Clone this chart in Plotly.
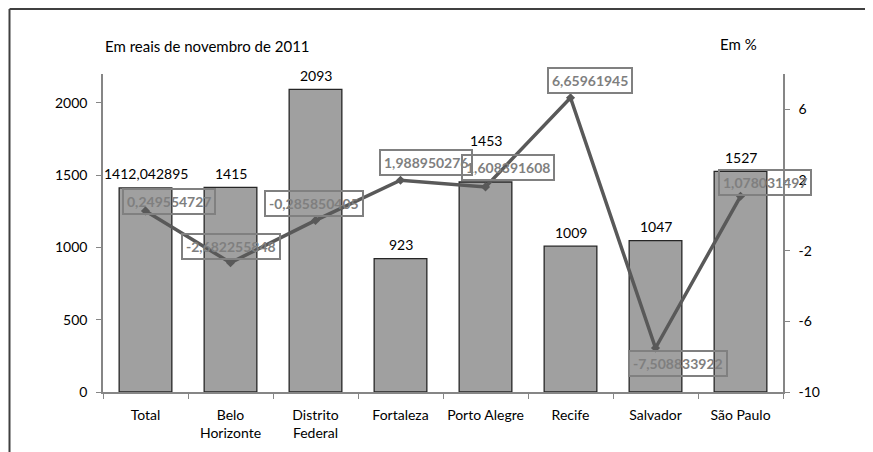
import plotly.graph_objects as go

# Categories and values
cidades = ["Total", "Belo<br>Horizonte", "Distrito<br>Federal", "Fortaleza",
           "Porto Alegre", "Recife", "Salvador", "São Paulo"]
valor_reais = [1412.042895, 1415, 2093, 923, 1453, 1009, 1047, 1527]
variacao_pct = [0.249554727, -2.682255848, -0.285850405, 1.988950276,
                1.608391608, 6.65961945, -7.508833922, 1.078031497]

# label offsets (pixels) so boxes sit roughly where the original puts them
bar_label_shift = [14, 14, 14, 14, 41, 14, 14, 14]
line_label_shift = [(23, 9), (0, 16), (-2, 17), (25, 18), (22, 19),
                    (19, 17), (22, -16), (24, 14)]

FONT = "Lato"
fmt = lambda v: str(v).replace(".", ",")

fig = go.Figure()

fig.add_trace(go.Bar(
    x=cidades, y=valor_reais, width=0.62,
    marker=dict(color="#a0a0a0", line=dict(color="#262626", width=1.3)),
    yaxis="y",
))

fig.add_trace(go.Scatter(
    x=cidades, y=variacao_pct, mode="lines+markers",
    line=dict(color="#595959", width=3.5),
    marker=dict(symbol="diamond", size=7, color="#595959"),
    yaxis="y2",
))

# value labels above bars
for c, v, s in zip(cidades, valor_reais, bar_label_shift):
    fig.add_annotation(x=c, y=v, yref="y", text=fmt(v), showarrow=False,
                       yshift=s, font=dict(family=FONT, size=14, color="black"))

# boxed labels of the % line
for c, v, (dx, dy) in zip(cidades, variacao_pct, line_label_shift):
    fig.add_annotation(x=c, y=v, yref="y2", text=fmt(v), showarrow=False,
                       xshift=dx, yshift=dy, bordercolor="#808080", borderwidth=2,
                       borderpad=3,
                       font=dict(family=FONT, size=14, color="#7f7f7f", weight="bold"))

fig.add_annotation(xref="paper", yref="paper", x=0.0, y=1.122, xanchor="left",
                   text="Em reais de novembro de 2011", showarrow=False,
                   font=dict(family=FONT, size=15, color="black"))
fig.add_annotation(xref="paper", yref="paper", x=0.935, y=1.128, xanchor="center",
                   text="Em %", showarrow=False,
                   font=dict(family=FONT, size=15, color="black"))

# outer frame (top and left only, as in the cropped original)
fig.add_shape(type="line", xref="paper", yref="paper", x0=-0.1375, x1=1.2,
              y0=1.2044, y1=1.2044, line=dict(color="#404040", width=2))
fig.add_shape(type="line", xref="paper", yref="paper", x0=-0.1375, x1=-0.1375,
              y0=1.2044, y1=-0.3, line=dict(color="#404040", width=2))

fig.update_layout(
    width=865, height=444,
    margin=dict(l=95, r=90, t=66, b=60),
    plot_bgcolor="white", paper_bgcolor="white",
    showlegend=False,
    font=dict(family=FONT, size=14, color="black"),
    xaxis=dict(range=[-0.5, 7.5], showline=True, linecolor="#868686", linewidth=1.5,
               ticks="outside", tickson="boundaries", ticklen=5, tickcolor="#868686",
               showgrid=False, ticklabelstandoff=9, tickangle=0, automargin=False),
    yaxis=dict(range=[0, 2200], tickvals=[0, 500, 1000, 1500, 2000],
               showline=True, linecolor="#868686", linewidth=1.5,
               ticks="outside", ticklen=5, tickcolor="#868686", showgrid=False,
               zeroline=False, ticklabelstandoff=6, automargin=False),
    yaxis2=dict(range=[-10, 8], tickvals=[-10, -6, -2, 2, 6],
                ticktext=["-10", "-6", "-2", "2", "6"], overlaying="y",
                side="right", showline=True, linecolor="#868686", linewidth=1.5,
                ticks="outside", ticklen=5, tickcolor="#868686", showgrid=False,
                zeroline=False, ticklabelstandoff=6, automargin=False),
)

fig.write_html("out.html")
